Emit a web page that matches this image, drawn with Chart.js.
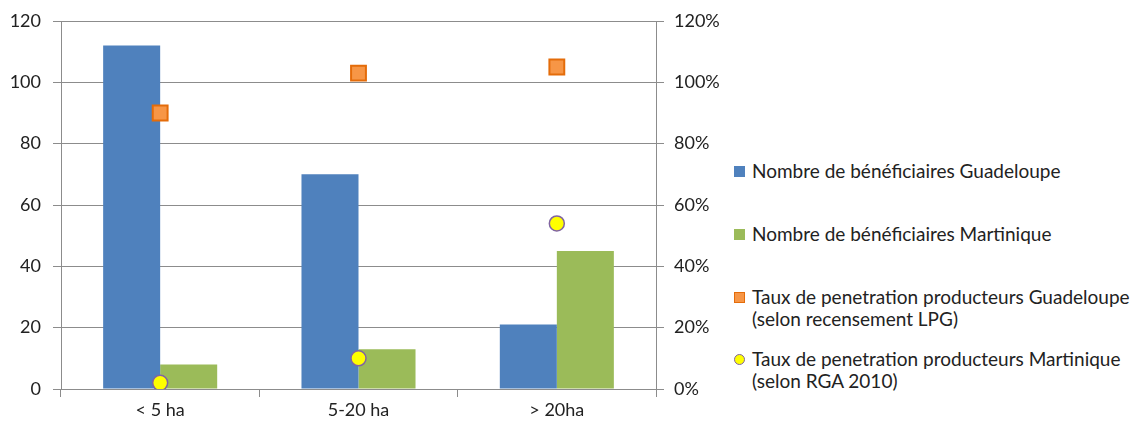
<!DOCTYPE html>
<html>
<head>
<meta charset="utf-8">
<script src="https://cdn.jsdelivr.net/npm/chart.js@4.4.1/dist/chart.umd.min.js"></script>
<style>
  body { margin: 0; background: #fff; font-family: Lato, 'Open Sans', sans-serif; }
  #wrap { position: relative; width: 1139px; height: 427px; }
  #chartBox { position: absolute; left: 0; top: 0; width: 730px; height: 427px; }
  #legend { position: absolute; left: 734px; top: 160px; color: #222; font-size: 19px; line-height: 22px; }
  .item { display: flex; align-items: flex-start; }
  .sw { width: 11px; height: 11px; margin: 6px 7px 0 0; flex: none; box-sizing: border-box; }
</style>
</head>
<body>
<div id="wrap">
  <div id="chartBox"><canvas id="combo"></canvas></div>
  <div id="legend"></div>
</div>
<script>
// Farm size classes
const categories = ['< 5 ha', '5-20 ha', '> 20ha'];

// Beneficiary counts (left axis)
const benefGuadeloupe = [112, 70, 21];
const benefMartinique = [8, 13, 45];

// Producer penetration rates in % (right axis)
const tauxGuadeloupe = [90, 103, 105];
const tauxMartinique = [2, 10, 54];

const countTicks = [0, 20, 40, 60, 80, 100, 120];
const pctTicks = [0, 20, 40, 60, 80, 100, 120];

const legendLabels = [
    ['Nombre de bénéficiaires Guadeloupe'],
    ['Nombre de bénéficiaires Martinique'],
    ['Taux de penetration producteurs Guadeloupe', '(selon recensement LPG)'],
    ['Taux de penetration producteurs Martinique', '(selon RGA 2010)']
];

const axisFont = { family: "Lato, 'Open Sans', sans-serif", size: 18, lineHeight: 1 };
const gridColor = '#8c8c8c';

const datasets = [
    {
        type: 'line', label: legendLabels[2].join(' '), data: tauxGuadeloupe, yAxisID: 'y1', order: 1,
        showLine: false, pointStyle: 'rect', pointRadius: 10.5, pointHoverRadius: 10.5,
        backgroundColor: '#F79646', borderColor: '#E46C0A', borderWidth: 2
    },
    {
        type: 'line', label: legendLabels[3].join(' '), data: tauxMartinique, yAxisID: 'y1', order: 1,
        showLine: false, pointStyle: 'circle', pointRadius: 7.5, pointHoverRadius: 7.5,
        backgroundColor: '#FFFF00', borderColor: '#8064A2', borderWidth: 1.5
    },
    {
        type: 'bar', label: legendLabels[0][0], data: benefGuadeloupe, yAxisID: 'y', order: 2,
        backgroundColor: '#4F81BD', barPercentage: 1, categoryPercentage: 0.575
    },
    {
        type: 'bar', label: legendLabels[1][0], data: benefMartinique, yAxisID: 'y', order: 2,
        backgroundColor: '#9BBB59', barPercentage: 1, categoryPercentage: 0.575
    }
];

new Chart(document.getElementById('combo').getContext('2d'), {
    data: { labels: categories, datasets: datasets },
    options: {
        responsive: true,
        maintainAspectRatio: false,
        animation: false,
        layout: { padding: { top: 19, left: 0, right: 0, bottom: 0 } },
        plugins: { legend: { display: false }, tooltip: { enabled: false } },
        scales: {
            x: {
                offset: true,
                afterFit: (s) => { s.height = 38; },
                grid: { offset: true, drawOnChartArea: false, color: gridColor, tickLength: 8 },
                border: { color: gridColor },
                ticks: { color: '#222', font: axisFont, padding: 4 }
            },
            y: {
                position: 'left', min: 0, max: 120,
                afterBuildTicks: (axis) => { axis.ticks = countTicks.map(v => ({ value: v })); },
                afterFit: (s) => { s.width = 61; },
                grid: { color: gridColor, tickLength: 8 },
                border: { color: gridColor },
                ticks: { color: '#222', font: axisFont, padding: 12 }
            },
            y1: {
                position: 'right', min: 0, max: 120,
                afterBuildTicks: (axis) => { axis.ticks = pctTicks.map(v => ({ value: v })); },
                afterFit: (s) => { s.width = 74; },
                grid: { drawOnChartArea: false, color: gridColor, tickLength: 8 },
                border: { color: gridColor },
                ticks: { color: '#222', font: axisFont, padding: 10, callback: (v) => v + '%' }
            }
        }
    }
});

// HTML legend with two-line entries for the rate series
const swatches = [
    'background:#4F81BD',
    'background:#9BBB59',
    'background:#F79646;border:1.5px solid #E46C0A',
    'background:#FFFF00;border:1.5px solid #8064A2;border-radius:50%'
];
const gaps = [0, 41, 41, 18];
document.getElementById('legend').innerHTML = legendLabels.map((lines, i) =>
    `<div class="item" style="margin-top:${gaps[i]}px"><span class="sw" style="${swatches[i]}"></span><span>${lines.join('<br>')}</span></div>`
).join('');
</script>
</body>
</html>
